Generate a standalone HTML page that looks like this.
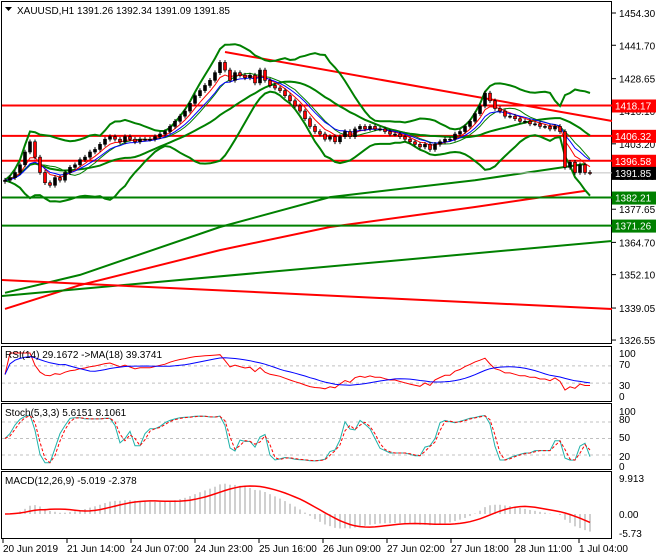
<!DOCTYPE html>
<html><head><meta charset="utf-8"><style>
body{margin:0;background:#fff;}
svg{display:block;font-family:"Liberation Sans",sans-serif;font-size:10px;}
</style></head><body>
<svg id="c" width="660" height="560">
<rect x="0" y="0" width="660" height="560" fill="#fff"/>
</svg>
<script>
// ----- data -----
const closes=[1389,1390,1392,1395,1400,1404,1398,1392,1388,1387,
1390,1389,1392,1394,1395,1397,1398,1400,1401,1403,1405,1406,
1405,1404,1406,1405,1404,1405,1405,1405,
1406,1407,1408,1410,1412,1414,1416,1419,1422,1424,
1426,1428,1431,1435,1432,1428,1431,1430,1429,1430,1427,1432,
1428,1426,1425,1424,1422,1420,1418,1416,1413,1410,1408,1407,
1405,1406,1404,1406,1408,1406,1409,1410,1409,1410,1409,1409,
1408,1407,1407,1406,1405,1404,1403,1402,1403,1401,1403,1404,
1405,1405,1407,1408,1410,1412,1415,1418,1423,1420,
1417,1416,1414,1414,1413,1412,1412,1411,1411,1410,1410,1409,
1410,1408,1394,1396,1392,1395,1392,1391.85];
const slowIdx=[0,15,43,65,94,116];
const slowGreen=[1345,1352,1370.7,1382.4,1389,1395.3];
const slowRed=[1338.7,1348,1361.7,1370.7,1378.5,1384.8];
const priceTicks=[1454.30,1441.70,1428.65,1416.10,1403.20,1390.60,1377.65,1364.70,1352.10,1339.05,1326.55];
const dateLabels=["20 Jun 2019","21 Jun 14:00","24 Jun 07:00","24 Jun 23:00","25 Jun 16:00","26 Jun 09:00","27 Jun 02:00","27 Jun 18:00","28 Jun 11:00","1 Jul 04:00"];
const redLevels=[1418.17,1406.32,1396.58];
const greenLevels=[1382.21,1371.26];

const svg=document.getElementById('c');
const NS='http://www.w3.org/2000/svg';
function mk(t,a,p){const e=document.createElementNS(NS,t);for(const k in a)e.setAttribute(k,a[k]);(p||svg).appendChild(e);return e;}
const xOf=i=>5+i*5;
const yP=p=>13+(1454.3-p)*2.56;
const N=closes.length;
function pl(vals,yf,col,w,name,dash){let d='';vals.forEach((v,i)=>{if(v==null)return;d+=(d?'L':'M')+xOf(i)+','+yf(v).toFixed(1);});
 const e=mk('path',{d:d,fill:'none',stroke:col,'stroke-width':w});if(dash)e.setAttribute('stroke-dasharray',dash);
 
 return e;}
function sma(a,n){return a.map((v,i)=>{if(v==null)return null;const s=a.slice(Math.max(0,i-n+1),i+1).filter(x=>x!=null);return s.reduce((p,c)=>p+c,0)/s.length;});}
function ema(a,n){const k=2/(n+1);let r=[];a.forEach((v,i)=>r.push(i?v*k+r[i-1]*(1-k):v));return r;}

// panels frames
mk('rect',{x:1.5,y:1.5,width:610,height:342,fill:'none',stroke:'#000'});
mk('rect',{x:1.5,y:346.5,width:610,height:55,fill:'none',stroke:'#000'});
mk('rect',{x:1.5,y:403.5,width:610,height:66,fill:'none',stroke:'#000'});
mk('rect',{x:1.5,y:471.5,width:610,height:67,fill:'none',stroke:'#000'});

// price axis
priceTicks.forEach(p=>{const y=yP(p);mk('line',{x1:612,x2:616,y1:y,y2:y,stroke:'#000'});
 const t=mk('text',{x:619,y:y+4,fill:'#000'});t.textContent=p.toFixed(2);
 
 });

// long MAs
function slowPath(arr,col,name){let d='';slowIdx.forEach((ix,k)=>{d+=(k?'L':'M')+xOf(ix)+','+yP(arr[k]).toFixed(1);});
 const e=mk('path',{d:d,fill:'none',stroke:col,'stroke-width':2});
 
 }
slowPath(slowGreen,'#008000','ma-slow-green');
slowPath(slowRed,'#ff0000','ma-slow-red');

// trendlines
mk('line',{x1:2,y1:296,x2:612,y2:241,stroke:'#008000','stroke-width':2});
mk('line',{x1:2,y1:280,x2:612,y2:309,stroke:'#ff0000','stroke-width':2});
mk('line',{x1:225,y1:52,x2:612,y2:121,stroke:'#ff0000','stroke-width':2});
redLevels.forEach(p=>mk('line',{x1:2,x2:612,y1:yP(p),y2:yP(p),stroke:'#ff0000','stroke-width':2}));
greenLevels.forEach(p=>mk('line',{x1:2,x2:612,y1:yP(p),y2:yP(p),stroke:'#008000','stroke-width':2}));
mk('line',{x1:2,x2:612,y1:yP(closes[N-1]),y2:yP(closes[N-1]),stroke:'#c0c0c0'});

// bollinger
const BP=14,BK=2.4;
const mid=sma(closes,BP);
const sd=closes.map((v,i)=>{const s=closes.slice(Math.max(0,i-BP+1),i+1);const m=mid[i];return Math.sqrt(s.reduce((p,c)=>p+(c-m)*(c-m),0)/s.length);});
pl(mid.map((m,i)=>m+BK*sd[i]),yP,'#008000',2,'bollinger-upper');
pl(mid.map((m,i)=>m-BK*sd[i]),yP,'#008000',2,'bollinger-lower');
pl(sma(closes,20),yP,'#008000',2,'bollinger-middle');
pl(sma(closes,8),yP,'#008000',1,'ma-fast-green');
pl(ema(closes,5),yP,'#ff0000',1,'ema-fast-red');
pl(ema(closes,8),yP,'#0000ff',1,'ema-fast-blue');

// candles
closes.forEach((c,i)=>{const o=i?closes[i-1]:c-0.5;const hi=Math.max(o,c)+0.9,lo=Math.min(o,c)-0.9;const x=xOf(i);
 mk('line',{x1:x,x2:x,y1:yP(hi),y2:yP(lo),stroke:'#000'});
 const top=yP(Math.max(o,c)),h=Math.max(1,yP(Math.min(o,c))-top);
 const r=mk('rect',{x:x-1.5,y:top,width:3,height:h,fill:c>=o?'#000':'#ff0000',stroke:'#000','stroke-width':0.6});
 
 });

// price labels
function plabel(p,bg,name){const y=yP(p);const r=mk('rect',{x:612,y:y-6,width:44,height:13,fill:bg});
 
 
 const t=mk('text',{x:615,y:y+4,fill:'#fff'});t.textContent=p.toFixed(2);}
redLevels.forEach(p=>plabel(p,'#ff0000','resistance-label'));
greenLevels.forEach(p=>plabel(p,'#008000','support-label'));
plabel(closes[N-1],'#000','current-price-label');

// header
mk('path',{d:'M5,7 L12,7 L8.5,11 Z',fill:'#000'});
const hd=mk('text',{x:17,y:14,fill:'#000'});hd.textContent='XAUUSD,H1  1391.26 1392.34 1391.09 1391.85';



// RSI
const yR=v=>396-v*0.43;
const RP=9;
let rsi=[],ag=0,al=0;
closes.forEach((c,i)=>{if(!i){rsi.push(50);return;}const d=c-closes[i-1];const g=Math.max(d,0),l=Math.max(-d,0);
 if(i<=RP){ag=(ag*(i-1)+g)/i;al=(al*(i-1)+l)/i;}else{ag=(ag*(RP-1)+g)/RP;al=(al*(RP-1)+l)/RP;}
 rsi.push(al===0?100:100-100/(1+ag/al));});
[70,30].forEach(v=>mk('line',{x1:2,x2:612,y1:yR(v),y2:yR(v),stroke:'#c0c0c0','stroke-dasharray':'3,3'}));
pl(rsi,yR,'#ff0000',1,'rsi-line');
pl(sma(rsi,12),yR,'#0000ff',1,'rsi-ma-line');
[[100,353],[70,364],[30,385],[0,396]].forEach(a=>{const t=mk('text',{x:619,y:a[1]+4});t.textContent=a[0];});
const rt=mk('text',{x:5,y:358});rt.textContent='RSI(14) 29.1672  ->MA(18) 39.3741';

// Stochastic
const yS=v=>466-v*0.55;
const raw=closes.map((c,i)=>{const w=closes.slice(Math.max(0,i-3),i+1);const h=Math.max(...w)+0.9,l=Math.min(...w)-0.9;return (c-l)/(h-l)*100;});
const kL=sma(raw,2),dL=sma(kL,2);
[80,50,20].forEach(v=>mk('line',{x1:2,x2:612,y1:yS(v),y2:yS(v),stroke:'#c0c0c0','stroke-dasharray':'3,3'}));
pl(kL,yS,'#20b2aa',1,'stoch-k-line');
pl(dL,yS,'#ff0000',1,'stoch-d-line','3,2');
[[100,411],[80,419],[50,437],[20,456],[0,466]].forEach(a=>{const t=mk('text',{x:619,y:a[1]+4});t.textContent=a[0];});
const st=mk('text',{x:5,y:416});st.textContent='Stoch(5,3,3) 5.6151 8.1061';

// MACD
const yM=v=>514-v*3.63;
const e12=ema(closes,12),e26=ema(closes,26);
const macd=e12.map((v,i)=>v-e26[i]);const sig=sma(macd,9);
macd.forEach((v,i)=>{const b=mk('line',{x1:xOf(i),x2:xOf(i),y1:yM(0),y2:Math.max(473,Math.min(537,yM(v))),stroke:'#c0c0c0','stroke-width':1.5});
 
 });
pl(sig,yM,'#ff0000',1.5,'macd-signal');
[['9.913',478],['0.00',514],['-5.73',533]].forEach(a=>{const t=mk('text',{x:619,y:a[1]+4});t.textContent=a[0];});
const mt=mk('text',{x:5,y:484});mt.textContent='MACD(12,26,9) -5.019 -2.378';

// dates
dateLabels.forEach((d,k)=>{const x=3+k*64;mk('line',{x1:x,x2:x,y1:539,y2:543,stroke:'#000'});
 const t=mk('text',{x:x,y:552});t.textContent=d;
 
 });
</script>
</body></html>
